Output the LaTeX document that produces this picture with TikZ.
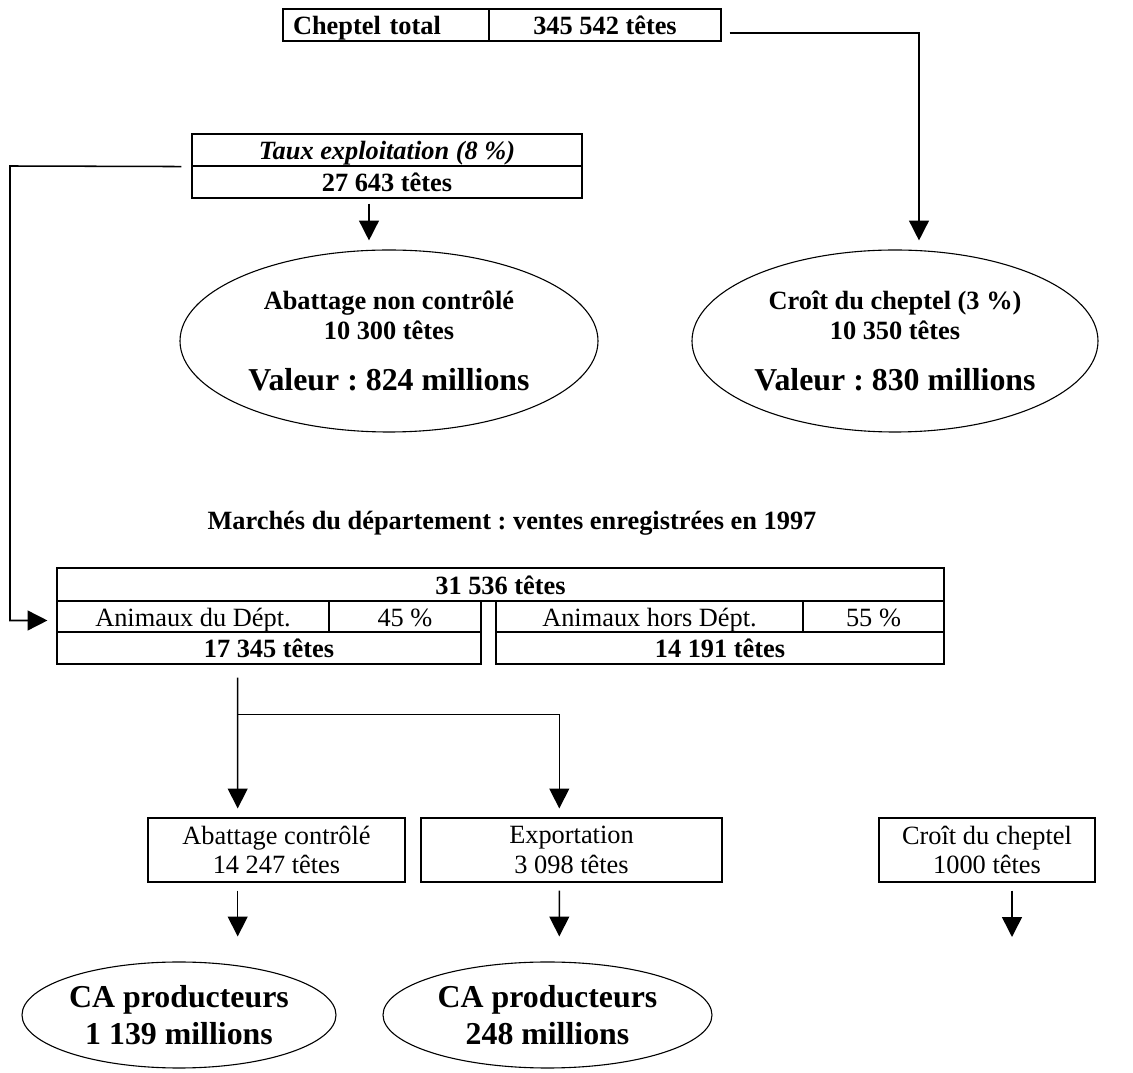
\documentclass[tikz,border=0pt]{standalone}
\usepackage{fontspec}
\setmainfont{Liberation Serif}
\usetikzlibrary{arrows.meta,shapes.geometric,calc}
\frenchspacing
\newcommand{\normtxt}{\fontsize{12}{13.5}\selectfont}
\newcommand{\bigtxt}{\fontsize{14.5}{16.5}\selectfont}
\tikzset{
  cell/.style  = {draw, line width=0.5pt, inner sep=0pt, minimum height=5.12mm,
                  text height=11pt, text depth=2pt, font=\normtxt\bfseries},
  cellR/.style = {cell, font=\normtxt},
  boxN/.style  = {draw, line width=0.5pt, inner sep=0pt, align=center,
                  minimum height=10.24mm, font=\normtxt},
  ovalB/.style = {draw, line width=0.5pt, ellipse, inner sep=-4pt, align=center,
                  font=\normtxt\bfseries},
  A/.style     = {-{Triangle[length=9pt,width=9pt]}, line width=0.7pt},
}

\begin{document}
\begin{tikzpicture}[x=0.16mm, y=-0.16mm]
\useasboundingbox (0,0) rectangle (1133,1073);

%% cheptel total
\node[cell, text width=29.76mm, align=left, inner xsep=1.6mm] (chT) at (386,25)
  {Cheptel total};
\node[cell, minimum width=37.12mm] (chV) at (605,25) {345 542 têtes};

%% taux d'exploitation
\node[cell, minimum width=62.4mm, font=\normtxt\bfseries\itshape] (taux) at (387,150)
  {Taux exploitation (8 \%)};
\node[cell, minimum width=62.4mm] (tauxN) at (387,182) {27 643 têtes};

%% ellipses du haut
\node[ovalB, minimum width=66.88mm, minimum height=29.12mm] (abNC) at (389,341)
  {Abattage non contrôlé\\10 300 têtes\\[3.5mm]{\bigtxt Valeur : 824 millions}};
\node[ovalB, minimum width=64.96mm, minimum height=29.12mm] (croit) at (895,341)
  {Croît du cheptel (3 \%)\\10 350 têtes\\[3.5mm]{\bigtxt Valeur : 830 millions}};

\draw[A] ($(chV.east)+(8,8)$) -| ($(croit.north)+(24,-9)$);
\draw[A] ($(tauxN.south)+(-18,5)$) -- ($(abNC.north)+(-20,-9)$);

%% marches
\node[font=\normtxt\bfseries] (titre) at (512,523)
  {Marchés du département : ventes enregistrées en 1997};

\node[cell, minimum width=141.92mm, minimum height=5.28mm] (tot) at (500.5,584.5)
  {31 536 têtes};
\node[cellR, minimum width=43.52mm, minimum height=4.96mm] (dptL) at (193,616.5)
  {Animaux du Dépt.};
\node[cellR, minimum width=24.32mm, minimum height=4.96mm] (dptP) at (405,616.5)
  {45 \%};
\node[cell, minimum width=67.84mm] (dptN) at (269,648) {17 345 têtes};
\node[cellR, minimum width=49.12mm, minimum height=4.96mm] (horsL) at (649.5,616.5)
  {Animaux hors Dépt.};
\node[cellR, minimum width=22.56mm, minimum height=4.96mm] (horsP) at (873.5,616.5)
  {55 \%};
\node[cell, minimum width=71.68mm] (horsN) at (720,648) {14 191 têtes};

\coordinate (lBend) at (10,166);
\draw[A] ($(taux.south west)+(-10,0)$) -- (lBend) |- ($(dptL.west)+(-9,4)$);

%% destinations
\node[boxN, minimum width=41.12mm] (abC) at (276.5,850)
  {Abattage contrôlé\\14 247 têtes};
\node[boxN, minimum width=48.16mm] (exp) at (571.5,850)
  {Exportation\\3 098 têtes};
\node[boxN, minimum width=34.56mm] (crB) at (987,850)
  {Croît du cheptel\\1000 têtes};

\draw[A] ($(dptN.south)+(-31.3,13)$) -- ($(abC.north)+(-38.8,-9)$);
\draw[A] ($(dptN.south)+(-31.3,50)$) -| ($(exp.north)+(-12.2,-9)$);

%% chiffre d'affaires
\node[ovalB, font=\bigtxt\bfseries, minimum width=50.24mm, minimum height=16.96mm]
  (ca1) at (179,1015) {CA producteurs\\1 139 millions};
\node[ovalB, font=\bigtxt\bfseries, minimum width=52.64mm, minimum height=16.96mm]
  (ca2) at (547.5,1015) {CA producteurs\\248 millions};

\coordinate (crEnd) at (1012,937);
\draw[A] ($(abC.south)+(-38.8,8)$) -- ($(ca1.north)+(58.7,-25)$);
\draw[A] ($(exp.south)+(-12.2,8)$) -- ($(ca2.north)+(11.8,-25)$);
\draw[A] ($(crB.south)+(25,8)$) -- (crEnd);

\end{tikzpicture}
\end{document}
